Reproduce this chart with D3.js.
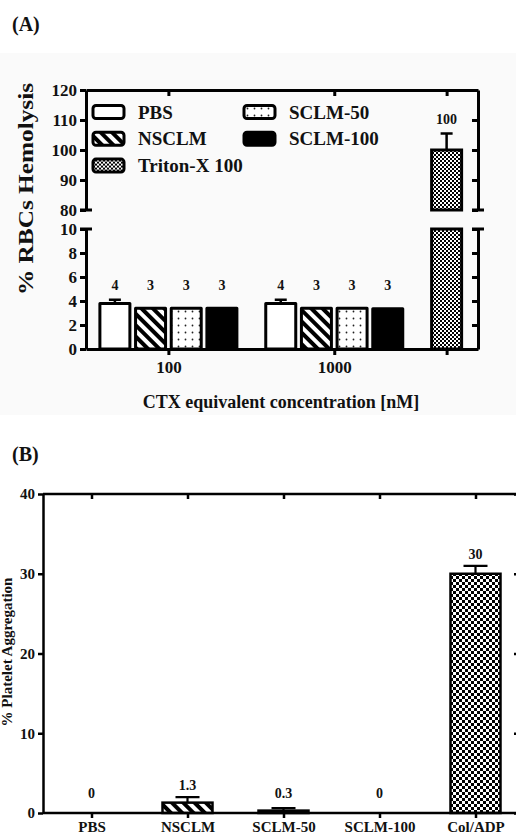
<!DOCTYPE html>
<html>
<head>
<meta charset="utf-8">
<script src="https://cdn.jsdelivr.net/npm/d3@7"></script>
<style>
  body { margin: 0; background: #fff; }
  svg { display: block; }
  text { font-family: "Liberation Serif", "Times New Roman", serif; font-weight: bold; fill: #111; }
</style>
</head>
<body>
<svg id="chart" width="516" height="837"></svg>
<script>
// (A) hemolysis, two concentrations x four formulations, plus Triton control
const concentrations = ['100', '1000'];
const formulations = ['PBS', 'NSCLM', 'SCLM-50', 'SCLM-100'];
const hemo100 = [3.8, 3.4, 3.4, 3.4];
const hemo1000 = [3.8, 3.4, 3.4, 3.35];
const hemoErr100 = [0.3, 0, 0, 0];
const hemoErr1000 = [0.3, 0, 0, 0];
const hemoLabels100 = ['4', '3', '3', '3'];
const hemoLabels1000 = ['4', '3', '3', '3'];
const tritonName = 'Triton-X 100';
const tritonMean = 100;
const tritonErr = 5.5;
const tritonLabel = '100';
const hemoLowTicks = [0, 2, 4, 6, 8, 10];
const hemoHighTicks = [80, 90, 100, 110, 120];

// (B) platelet aggregation
const aggCategories = ['PBS', 'NSCLM', 'SCLM-50', 'SCLM-100', 'Col/ADP'];
const aggMean = [0, 1.3, 0.3, 0, 30];
const aggErr = [0, 0.7, 0.3, 0, 1];
const aggLabels = ['0', '1.3', '0.3', '0', '30'];
const aggTicks = [0, 10, 20, 30, 40];

const fills = {
  'PBS': '#fff',
  'NSCLM': 'url(#hatch)',
  'SCLM-50': 'url(#dots)',
  'SCLM-100': '#000',
  'Triton-X 100': 'url(#checkFine)',
  'Col/ADP': 'url(#checkBig)',
};

const svg = d3.select('#chart');

// ---- patterns ----
const defs = svg.append('defs');
const hatch = defs.append('pattern').attr('id', 'hatch')
  .attr('patternUnits', 'userSpaceOnUse').attr('width', 8).attr('height', 8)
  .attr('patternTransform', 'rotate(-45)');
hatch.append('rect').attr('width', 8).attr('height', 8).attr('fill', '#fff');
hatch.append('rect').attr('width', 4).attr('height', 8).attr('fill', '#000');

const dots = defs.append('pattern').attr('id', 'dots')
  .attr('patternUnits', 'userSpaceOnUse').attr('width', 7).attr('height', 7);
dots.append('rect').attr('width', 7).attr('height', 7).attr('fill', '#fff');
dots.append('circle').attr('cx', 3.5).attr('cy', 3.5).attr('r', 0.9).attr('fill', '#222');

function checker(id, s) {
  const p = defs.append('pattern').attr('id', id)
    .attr('patternUnits', 'userSpaceOnUse').attr('width', 2 * s).attr('height', 2 * s);
  p.append('rect').attr('width', 2 * s).attr('height', 2 * s).attr('fill', '#fff');
  p.append('rect').attr('width', s).attr('height', s).attr('fill', '#000');
  p.append('rect').attr('x', s).attr('y', s).attr('width', s).attr('height', s).attr('fill', '#000');
}
checker('checkFine', 2);
checker('checkBig', 3);

function styleAxis(g, width, fontSize) {
  g.selectAll('path, line').attr('stroke', '#000').attr('stroke-width', width);
  g.selectAll('text').attr('font-size', fontSize).attr('fill', '#111')
    .attr('font-family', '"Liberation Serif", "Times New Roman", serif').attr('font-weight', 'bold');
}

// =================== Panel A ===================
svg.append('rect').attr('x', 0).attr('y', 53).attr('width', 516).attr('height', 362).attr('fill', '#fafafa');
svg.append('text').attr('x', 12).attr('y', 31).attr('font-size', 20).text('(A)');

const left = 86, right = 478;
// bar slots: 4 per concentration, an extra 0.65 slot between clusters
const GAP = 0.65;
const xA = d3.scaleLinear().domain([-0.81, 10.18]).range([left, right]);
const yLow = d3.scaleLinear().domain([0, 10]).range([349, 229]);
const yHigh = d3.scaleLinear().domain([80, 120]).range([210, 90]);
const barW = 30;

const clusters = [
  { conc: concentrations[0], start: 0, mean: hemo100, err: hemoErr100, labels: hemoLabels100 },
  { conc: concentrations[1], start: 4 + GAP, mean: hemo1000, err: hemoErr1000, labels: hemoLabels1000 },
];
const tritonSlot = 8 + 2 * GAP;

const gA = svg.append('g');

clusters.forEach((c) => {
  const bars = formulations.map((f, i) => ({ name: f, slot: c.start + i, v: c.mean[i], e: c.err[i], lab: c.labels[i] }));
  const top = d3.max(bars, (d) => d.v + d.e);
  gA.selectAll(null).data(bars).join('rect')
    .attr('x', (d) => xA(d.slot) - barW / 2)
    .attr('y', (d) => yLow(d.v))
    .attr('width', barW)
    .attr('height', (d) => yLow(0) - yLow(d.v))
    .attr('fill', (d) => fills[d.name])
    .attr('stroke', '#000').attr('stroke-width', 3).attr('stroke-linejoin', 'round');
  const eb = bars.filter((d) => d.e > 0);
  gA.selectAll(null).data(eb).join('path')
    .attr('d', (d) => `M${xA(d.slot)},${yLow(d.v)}V${yLow(d.v + d.e)}M${xA(d.slot) - 6},${yLow(d.v + d.e)}H${xA(d.slot) + 6}`)
    .attr('stroke', '#000').attr('stroke-width', 2.5).attr('fill', 'none');
  gA.selectAll(null).data(bars).join('text')
    .attr('x', (d) => xA(d.slot)).attr('y', yLow(top) - 10)
    .attr('text-anchor', 'middle').attr('font-size', 14).text((d) => d.lab);
});

// Triton bar spans both segments of the broken axis
[[yLow, 0, 10], [yHigh, 80, tritonMean]].forEach(([ys, a, b]) => {
  gA.append('rect')
    .attr('x', xA(tritonSlot) - barW / 2).attr('y', ys(b))
    .attr('width', barW).attr('height', ys(a) - ys(b))
    .attr('fill', fills[tritonName]).attr('stroke', '#000').attr('stroke-width', 3);
});
gA.append('path')
  .attr('d', `M${xA(tritonSlot)},${yHigh(tritonMean)}V${yHigh(tritonMean + tritonErr)}M${xA(tritonSlot) - 6},${yHigh(tritonMean + tritonErr)}H${xA(tritonSlot) + 6}`)
  .attr('stroke', '#000').attr('stroke-width', 2.5).attr('fill', 'none');
gA.append('text').attr('x', xA(tritonSlot)).attr('y', yHigh(tritonMean + tritonErr) - 10)
  .attr('text-anchor', 'middle').attr('font-size', 14).text(tritonLabel);

// axes
const groupTicks = [clusters[0].start + 1.5, clusters[1].start + 1.5, tritonSlot];
const groupNames = [concentrations[0], concentrations[1], ''];

const axL1 = gA.append('g').attr('transform', `translate(${left},0)`)
  .call(d3.axisLeft(yLow).tickValues(hemoLowTicks).tickSize(6).tickSizeOuter(0).tickPadding(3));
const axL2 = gA.append('g').attr('transform', `translate(${left},0)`)
  .call(d3.axisLeft(yHigh).tickValues(hemoHighTicks).tickSize(6).tickSizeOuter(0).tickPadding(3));
const axR1 = gA.append('g').attr('transform', `translate(${right},0)`)
  .call(d3.axisRight(yLow).tickValues(hemoLowTicks).tickSize(-6).tickSizeOuter(0).tickFormat(''));
const axR2 = gA.append('g').attr('transform', `translate(${right},0)`)
  .call(d3.axisRight(yHigh).tickValues(hemoHighTicks).tickSize(-6).tickSizeOuter(0).tickFormat(''));
const axB = gA.append('g').attr('transform', `translate(0,${yLow(0)})`)
  .call(d3.axisBottom(xA).tickValues(groupTicks).tickFormat((d, i) => groupNames[i]).tickSize(6).tickSizeOuter(0).tickPadding(6));
const axT = gA.append('g').attr('transform', `translate(0,${yHigh(120)})`)
  .call(d3.axisTop(xA).tickValues(groupTicks).tickFormat('').tickSize(-6).tickSizeOuter(0));
[axL1, axL2, axR1, axR2, axB, axT].forEach((g) => styleAxis(g, 3, 17));

// break caps
[left, right].forEach((x) => {
  [yLow(10), yHigh(80)].forEach((y) => {
    gA.append('line').attr('x1', x - 6).attr('x2', x + 6).attr('y1', y).attr('y2', y)
      .attr('stroke', '#000').attr('stroke-width', 3);
  });
});

gA.append('text').attr('transform', `translate(33,189) rotate(-90)`)
  .attr('text-anchor', 'middle').attr('font-size', 21)
  .attr('textLength', 212).attr('lengthAdjust', 'spacingAndGlyphs').text('% RBCs Hemolysis');
gA.append('text').attr('x', 281).attr('y', 408).attr('text-anchor', 'middle')
  .attr('font-size', 18).text('CTX equivalent concentration [nM]');

// legend: three rows, filled column by column
const legendItems = ['PBS', 'NSCLM', tritonName, 'SCLM-50', 'SCLM-100'];
const leg = gA.selectAll(null).data(legendItems).join('g')
  .attr('transform', (d, i) => `translate(${93 + Math.floor(i / 3) * 151},${112 + (i % 3) * 26.8})`);
leg.append('rect').attr('x', 0).attr('y', -6.5).attr('width', 31).attr('height', 13).attr('rx', 3)
  .attr('fill', (d) => fills[d]).attr('stroke', '#000').attr('stroke-width', 3);
leg.append('text').attr('x', 45).attr('y', 6.5).attr('font-size', 19).text((d) => d);

// =================== Panel B ===================
svg.append('text').attr('x', 12).attr('y', 461).attr('font-size', 20).text('(B)');

const xB = d3.scalePoint().domain(aggCategories).range([91.5, 475.5]);
const yB = d3.scaleLinear().domain([0, 40]).range([813, 494]);
const bW = 50;
const gB = svg.append('g');

const aggRows = aggCategories.map((c, i) => ({ name: c, v: aggMean[i], e: aggErr[i], lab: aggLabels[i] }));
gB.selectAll(null).data(aggRows.filter((d) => d.v > 0)).join('rect')
  .attr('x', (d) => xB(d.name) - bW / 2).attr('y', (d) => yB(d.v))
  .attr('width', bW).attr('height', (d) => yB(0) - yB(d.v))
  .attr('fill', (d) => fills[d.name]).attr('stroke', '#000').attr('stroke-width', 2.5);
gB.selectAll(null).data(aggRows.filter((d) => d.e > 0)).join('path')
  .attr('d', (d) => `M${xB(d.name)},${yB(d.v)}V${yB(d.v + d.e)}M${xB(d.name) - 12},${yB(d.v + d.e)}H${xB(d.name) + 12}`)
  .attr('stroke', '#000').attr('stroke-width', 2.2).attr('fill', 'none');
gB.selectAll(null).data(aggRows).join('text')
  .attr('x', (d) => xB(d.name))
  .attr('y', (d) => Math.min(yB(d.v + d.e) - 7, yB(0) - 15))
  .attr('text-anchor', 'middle').attr('font-size', 14).text((d) => d.lab);

const bLeft = 43, bRight = 519;
const axBL = gB.append('g').attr('transform', `translate(${bLeft},0)`)
  .call(d3.axisLeft(yB).tickValues(aggTicks).tickSize(5).tickSizeOuter(0).tickPadding(3));
const axBR = gB.append('g').attr('transform', `translate(${bRight},0)`)
  .call(d3.axisRight(yB).tickValues(aggTicks).tickSize(-5).tickSizeOuter(0).tickFormat(''));
const axBB = gB.append('g').attr('transform', `translate(0,${yB(0)})`)
  .call(d3.axisBottom(xB).tickSize(5).tickSizeOuter(0).tickPadding(3));
const axBT = gB.append('g').attr('transform', `translate(0,${yB(40)})`)
  .call(d3.axisTop(xB).tickSize(-5).tickSizeOuter(0).tickFormat(''));
[axBL, axBR, axBB, axBT].forEach((g) => styleAxis(g, 2.5, 15));
// stretch frame lines to the plot box
axBB.select('.domain').attr('d', `M${bLeft},0H${bRight}`);
axBT.select('.domain').attr('d', `M${bLeft},0H${bRight}`);

gB.append('text').attr('transform', `translate(12,652) rotate(-90)`)
  .attr('text-anchor', 'middle').attr('font-size', 15).text('% Platelet Aggregation');
</script>
</body>
</html>
